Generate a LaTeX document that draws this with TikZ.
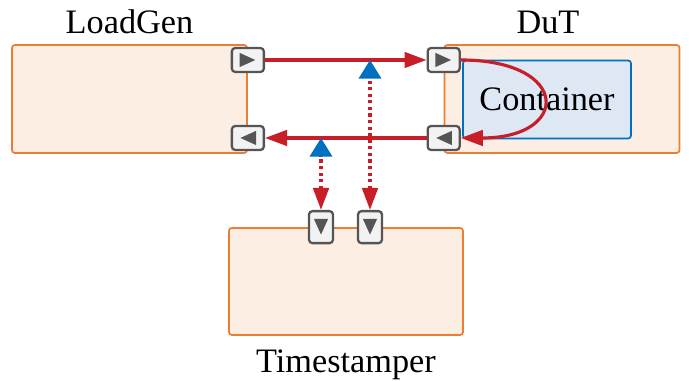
\documentclass[tikz,border=0pt]{standalone}
\usepackage{fontspec}
\setmainfont{Liberation Serif}
\usetikzlibrary{arrows.meta, positioning, calc}

\definecolor{boxorange}{HTML}{ED7D31}
\definecolor{boxfill}{HTML}{FCEEE2}
\definecolor{ctblue}{HTML}{0070C0}
\definecolor{ctfill}{HTML}{DEE8F5}
\definecolor{linkred}{HTML}{C81E28}
\definecolor{portgray}{HTML}{555555}
\definecolor{portfill}{HTML}{F2F2F2}

\begin{document}
\begin{tikzpicture}[
    x=0.35pt, y=0.35pt,
    font=\fontsize{12}{14}\selectfont,
    box/.style={rectangle, draw=boxorange, fill=boxfill, line width=0.6pt, rounded corners=1pt, minimum width=82.25pt, minimum height=37.8pt},
    ctbox/.style={rectangle, draw=ctblue, fill=ctfill, line width=0.6pt, rounded corners=1pt, minimum width=58.8pt, minimum height=27.3pt},
    port/.style={rectangle, draw=portgray, fill=portfill, line width=0.8pt, rounded corners=1.2pt, inner sep=0pt},
    portright/.style={port, minimum width=11.2pt, minimum height=8.4pt,
        path picture={\fill[portgray, sharp corners] ([shift={(-2.9pt,2.5pt)}]path picture bounding box.center) -- ([shift={(-2.9pt,-2.5pt)}]path picture bounding box.center) -- ([xshift=2.6pt]path picture bounding box.center) -- cycle;}},
    portleft/.style={port, minimum width=11.2pt, minimum height=8.4pt,
        path picture={\fill[portgray, sharp corners] ([shift={(2.9pt,2.5pt)}]path picture bounding box.center) -- ([shift={(2.9pt,-2.5pt)}]path picture bounding box.center) -- ([xshift=-2.6pt]path picture bounding box.center) -- cycle;}},
    portdown/.style={port, minimum width=8.4pt, minimum height=11.2pt,
        path picture={\fill[portgray, sharp corners] ([shift={(-2.5pt,2.9pt)}]path picture bounding box.center) -- ([shift={(2.5pt,2.9pt)}]path picture bounding box.center) -- ([yshift=-2.6pt]path picture bounding box.center) -- cycle;}},
    link/.style={draw=linkred, line width=1.1pt, arrows={-Triangle[length=7.7pt,width=5.4pt]}},
    tap/.style={draw=linkred, line width=1.2pt, dash pattern=on 1.1pt off 1.2pt,
        arrows={Triangle[length=7.7pt,width=5.4pt]-Triangle[color=ctblue,length=6.5pt,width=7.7pt]}}
]
\useasboundingbox (0,0) rectangle (692,381);

% boxes
\node[box] (loadgen) at (129.5,282) {};
\node[box] (dut) at (562,282) {};
\node[box, minimum width=81.9pt, minimum height=37.45pt] (tstamp) at (346,99.5) {};
\node[ctbox] (container) at (547,281.5) {Container};

% labels
\node[above=3.85pt of loadgen.north, anchor=base] (lglabel) {LoadGen};
\node[above=3.85pt of dut.north, anchor=base, xshift=-4.9pt] (dutlabel) {DuT};
\node[below=12.95pt of tstamp.south, anchor=base] (tslabel) {Timestamper};

% ports
\node[portright] (lgtx) at ([yshift=13.65pt]loadgen.east) {};
\node[portleft] (lgrx) at ([yshift=-13.65pt]loadgen.east) {};
\node[portright] (dutrx) at ([yshift=13.65pt]dut.west) {};
\node[portleft] (duttx) at ([yshift=-13.65pt]dut.west) {};
\node[portdown] (tsa) at ([xshift=-8.75pt]tstamp.north) {};
\node[portdown] (tsb) at ([xshift=8.4pt]tstamp.north) {};

% links
\draw[link] (lgtx.east) -- (dutrx.west);
\draw[link] (duttx.west) -- (lgrx.east);
\draw[link] (dutrx.east) .. controls +(38.5pt,0) and +(38.5pt,0) .. (duttx.east);

% taps
\draw[tap] (tsb.north) -- (tsb.north |- lgtx.center);
\draw[tap] (tsa.north) -- (tsa.north |- lgrx.center);
\end{tikzpicture}
\end{document}
